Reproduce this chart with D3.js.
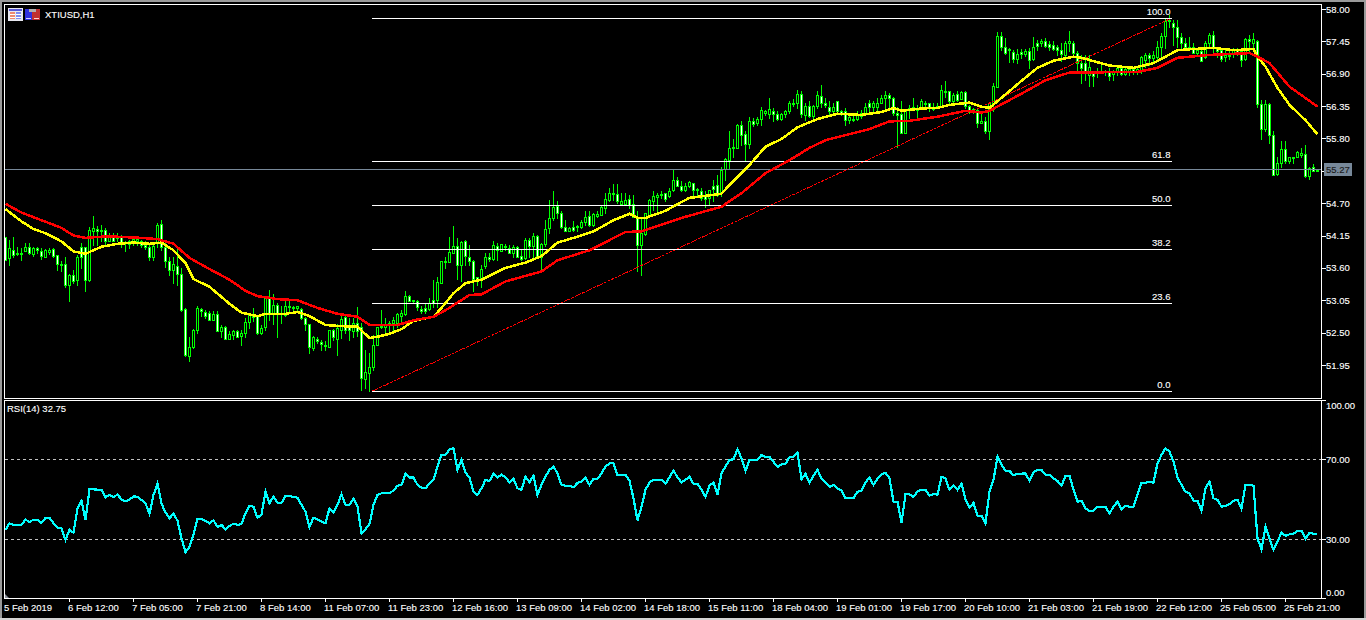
<!DOCTYPE html>
<html><head><meta charset="utf-8">
<script src="https://cdn.jsdelivr.net/npm/d3@7/dist/d3.min.js"></script>
<style>
html,body{margin:0;padding:0;background:#000;overflow:hidden}
svg{display:block}
text{font-family:"Liberation Sans",Arial,sans-serif;font-size:9.5px;fill:#fff;stroke:#fff;stroke-width:.12px}
.crisp{shape-rendering:crispEdges}
</style></head><body><svg id="c" width="1366" height="620"></svg>
<script>
const symbolTitle="XTIUSD,H1";
const rsiTitle="RSI(14) 32.75";
const lastPrice=55.27;
const highs=[54.13,54.08,54.13,53.96,53.93,54.02,54.02,53.96,53.96,53.93,
53.92,53.93,53.93,53.82,53.71,53.79,53.50,53.56,53.82,54.02,
53.96,54.29,54.48,54.31,54.33,54.27,54.19,54.19,54.19,54.16,
54.05,54.08,54.13,54.12,54.08,54.05,53.99,54.03,54.36,54.42,
54.08,53.79,53.79,53.93,53.60,52.92,52.42,52.56,52.96,52.92,
52.89,52.86,52.86,52.87,52.63,52.62,52.53,52.55,52.54,52.55,
52.75,52.83,52.92,52.80,52.63,53.10,53.23,53.15,53.00,52.96,
53.03,53.03,52.96,52.96,52.92,52.76,52.65,52.45,52.43,52.37,
52.35,52.55,52.56,52.65,52.83,52.80,52.75,52.75,52.93,52.66,
52.21,52.15,52.46,52.60,52.89,52.75,52.69,52.76,52.83,52.89,
53.20,53.14,53.06,53.06,52.95,53.00,53.09,53.40,53.45,53.72,
53.78,54.13,54.31,54.10,54.05,54.08,53.99,53.74,53.45,53.65,
53.85,53.86,54.05,54.03,54.01,54.01,53.99,53.99,53.97,53.91,
54.10,54.10,54.19,54.16,54.02,54.41,54.75,54.90,54.74,54.56,
54.41,54.30,54.39,54.33,54.41,54.56,54.56,54.53,54.56,54.67,
54.88,54.95,55.02,55.03,54.88,54.87,54.84,54.84,54.56,54.44,
54.54,54.77,54.90,54.87,54.90,54.88,54.95,55.26,55.15,55.07,
55.04,55.07,55.05,54.95,54.95,54.90,54.93,55.10,55.18,55.32,
55.46,55.92,55.79,56.05,56.09,55.93,56.17,56.14,56.17,56.33,
56.29,56.48,56.31,56.27,56.24,56.29,56.43,56.47,56.62,56.60,
56.40,56.43,56.37,56.60,56.71,56.48,56.43,56.40,56.44,56.29,
56.31,56.20,56.20,56.26,56.29,56.40,56.45,56.44,56.48,56.54,
56.61,56.57,56.51,56.34,56.43,56.29,56.37,56.48,56.37,56.47,
56.44,56.41,56.40,56.40,56.71,56.78,56.61,56.58,56.60,56.61,
56.60,56.37,56.31,56.31,56.23,56.17,56.40,56.74,57.61,57.61,
57.51,57.34,57.30,57.32,57.32,57.32,57.34,57.52,57.47,57.49,
57.50,57.45,57.45,57.39,57.42,57.45,57.62,57.45,57.28,57.22,
57.22,57.22,56.94,56.99,57.05,56.96,56.99,56.96,57.02,57.05,
56.99,57.02,56.99,56.99,57.20,57.26,57.25,57.28,57.45,57.59,
57.84,57.90,57.82,57.81,57.59,57.50,57.52,57.42,57.33,57.30,
57.45,57.59,57.62,57.36,57.33,57.33,57.28,57.33,57.33,57.30,
57.50,57.56,57.59,57.47,56.46,56.46,56.40,55.92,55.49,55.75,
55.76,55.49,55.49,55.59,55.63,55.69,55.32,55.37,55.28];
const lows=[53.74,53.65,53.78,53.82,53.74,53.88,53.84,53.81,53.86,53.75,
53.78,53.84,53.78,53.56,53.54,53.27,53.04,53.34,53.31,53.60,
53.20,53.37,53.99,53.99,54.05,53.99,54.05,54.05,54.05,53.95,
53.88,53.93,53.99,53.99,53.96,53.92,53.74,53.74,53.96,53.91,
53.62,53.48,53.34,53.31,52.86,52.11,52.01,52.24,52.50,52.79,
52.75,52.71,52.71,52.52,52.43,52.39,52.39,52.39,52.42,52.29,
52.42,52.58,52.69,52.48,52.48,52.54,52.72,52.65,52.42,52.67,
52.79,52.86,52.86,52.89,52.73,52.54,52.16,52.21,52.32,52.21,
52.20,52.26,52.38,52.12,52.41,52.49,52.38,52.43,52.45,51.53,
51.56,51.50,51.87,52.29,52.58,52.46,52.49,52.55,52.60,52.69,
52.80,53.03,53.00,52.89,52.83,52.83,52.89,52.94,52.94,53.34,
53.59,53.71,53.85,53.42,53.37,53.65,53.65,53.21,53.31,53.28,
53.59,53.72,53.74,53.74,53.89,53.91,53.85,53.79,53.78,53.74,
53.75,53.79,53.79,53.78,53.58,53.97,54.19,54.41,54.44,54.27,
54.22,54.22,54.22,54.22,54.27,54.33,54.31,54.31,54.47,54.50,
54.53,54.73,54.75,54.70,54.67,54.67,54.61,54.47,53.54,53.48,
54.16,54.50,54.59,54.53,54.78,54.73,54.81,54.90,54.99,54.90,
54.90,54.98,54.82,54.84,54.76,54.63,54.67,54.73,54.82,54.82,
55.10,55.29,55.48,55.63,55.69,55.42,55.63,56.01,56.03,56.03,
56.20,56.14,56.09,56.11,56.11,56.17,56.23,56.35,56.31,56.17,
56.11,56.17,56.13,56.31,56.34,56.33,56.20,56.23,56.23,56.20,
56.03,56.07,56.09,56.11,56.14,56.20,56.26,56.27,56.26,56.40,
56.30,56.30,56.20,55.66,55.89,55.90,56.14,56.29,56.14,56.31,
56.35,56.26,56.29,56.31,56.34,56.51,56.40,56.41,56.43,56.47,
56.31,56.23,56.23,56.00,56.06,55.89,55.79,56.26,56.68,57.30,
57.24,57.10,57.10,57.08,57.17,57.20,57.00,57.13,57.30,57.37,
57.35,57.30,57.30,57.22,57.11,57.19,57.28,57.19,56.96,56.74,
56.80,56.69,56.69,56.84,56.91,56.88,56.80,56.80,56.88,56.88,
56.88,56.88,56.90,56.90,56.92,57.02,57.05,57.08,57.11,57.19,
57.33,57.70,57.39,57.36,57.33,57.30,57.30,57.25,57.22,57.11,
57.16,57.36,57.22,57.19,57.11,57.11,57.15,57.19,57.22,57.03,
57.13,57.25,57.30,56.34,55.79,55.92,55.72,55.18,55.18,55.32,
55.38,55.38,55.38,55.48,55.49,55.15,55.11,55.24,55.24];
const bodyTops=[54.12,53.93,53.91,53.85,53.85,53.95,53.95,53.93,53.93,53.89,
53.91,53.91,53.92,53.82,53.67,53.66,53.48,53.48,53.78,53.95,
53.95,54.25,54.27,54.26,54.25,54.25,54.14,54.12,54.13,54.13,
54.04,54.05,54.09,54.09,54.05,53.99,53.95,53.97,54.33,54.35,
53.95,53.71,53.67,53.63,53.50,52.90,52.25,52.55,52.92,52.90,
52.85,52.83,52.81,52.81,52.60,52.60,52.48,52.53,52.53,52.49,
52.68,52.83,52.80,52.79,52.58,53.09,53.10,52.97,52.97,52.83,
52.96,52.95,52.94,52.95,52.90,52.75,52.64,52.42,52.40,52.34,
52.29,52.54,52.54,52.58,52.74,52.76,52.63,52.67,52.66,52.60,
51.83,51.92,52.29,52.59,52.62,52.65,52.66,52.72,52.81,52.84,
53.12,53.12,53.05,53.03,52.91,52.92,53.00,53.05,53.36,53.71,
53.71,53.87,53.97,53.97,54.04,54.06,53.79,53.72,53.44,53.58,
53.78,53.78,53.99,53.98,54.00,53.98,53.93,53.95,53.95,53.81,
54.08,54.08,54.15,54.15,54.00,54.26,54.44,54.64,54.66,54.54,
54.30,54.28,54.29,54.32,54.38,54.46,54.48,54.51,54.51,54.63,
54.77,54.88,54.87,54.86,54.74,54.75,54.77,54.69,54.44,54.19,
54.53,54.75,54.82,54.84,54.86,54.87,54.91,55.09,55.09,55.00,
54.99,55.06,55.04,54.94,54.90,54.84,54.93,55.00,55.01,55.27,
55.45,55.63,55.65,56.03,56.03,55.87,56.09,56.10,56.13,56.29,
56.27,56.30,56.27,56.21,56.22,56.26,56.41,56.41,56.56,56.56,
56.36,56.36,56.35,56.54,56.52,56.41,56.34,56.34,56.43,56.26,
56.26,56.17,56.13,56.20,56.23,56.34,56.41,56.41,56.41,56.48,
56.53,56.53,56.48,56.23,56.22,56.29,56.31,56.34,56.31,56.43,
56.41,56.40,56.32,56.35,56.62,56.61,56.60,56.54,56.55,56.59,
56.59,56.35,56.30,56.29,56.09,56.09,56.40,56.69,57.54,57.54,
57.35,57.32,57.27,57.24,57.27,57.29,57.29,57.35,57.42,57.46,
57.46,57.40,57.39,57.36,57.30,57.43,57.46,57.43,57.26,57.08,
57.09,57.02,56.92,56.94,56.95,56.95,56.94,56.94,56.99,57.00,
56.98,56.98,56.98,56.98,57.19,57.22,57.22,57.22,57.36,57.54,
57.80,57.81,57.76,57.69,57.53,57.43,57.35,57.35,57.30,57.29,
57.43,57.56,57.56,57.35,57.30,57.22,57.22,57.30,57.30,57.29,
57.49,57.49,57.49,57.45,56.39,56.39,56.39,55.86,55.38,55.62,
55.62,55.48,55.48,55.57,55.56,55.54,55.29,55.31,55.27];
const bodyBottoms=[53.74,53.76,53.82,53.83,53.83,53.89,53.86,53.84,53.90,53.80,
53.79,53.87,53.81,53.66,53.66,53.31,53.31,53.37,53.39,53.78,
53.40,53.40,54.22,54.22,54.22,54.06,54.06,54.06,54.12,54.02,
54.02,54.01,54.03,54.05,53.99,53.95,53.78,53.78,54.02,53.95,
53.71,53.56,53.56,53.49,52.89,52.12,52.11,52.25,52.54,52.86,
52.79,52.71,52.71,52.52,52.52,52.40,52.40,52.46,52.43,52.44,
52.49,52.68,52.77,52.49,52.49,52.59,52.83,52.82,52.82,52.81,
52.80,52.93,52.93,52.92,52.75,52.65,52.25,52.24,52.35,52.30,
52.28,52.26,52.42,52.40,52.55,52.55,52.54,52.52,52.52,51.73,
51.71,51.82,51.91,52.29,52.59,52.60,52.63,52.67,52.67,52.79,
52.81,53.04,53.03,52.93,52.86,52.86,52.91,53.01,53.06,53.35,
53.70,53.70,53.85,53.65,53.65,53.81,53.72,53.42,53.37,53.40,
53.63,53.75,53.75,53.91,53.89,53.95,53.85,53.85,53.79,53.75,
53.76,53.97,53.97,53.78,53.78,54.00,54.27,54.44,54.54,54.29,
54.23,54.23,54.25,54.31,54.30,54.38,54.33,54.33,54.49,54.50,
54.61,54.75,54.86,54.73,54.69,54.69,54.67,54.46,53.99,53.99,
54.18,54.50,54.73,54.81,54.84,54.77,54.82,54.92,55.00,54.92,
54.92,54.99,54.93,54.93,54.78,54.77,54.78,54.94,54.84,54.87,
55.28,55.44,55.63,55.64,55.86,55.71,55.71,56.05,56.07,56.13,
56.23,56.22,56.21,56.13,56.13,56.21,56.26,56.40,56.41,56.21,
56.20,56.19,56.19,56.35,56.40,56.37,56.26,56.26,56.26,56.24,
56.11,56.11,56.11,56.13,56.19,56.23,56.34,56.34,56.34,56.41,
56.48,56.48,56.23,56.20,55.89,55.90,56.29,56.30,56.29,56.34,
56.38,56.31,56.31,56.33,56.35,56.59,56.44,56.44,56.45,56.47,
56.35,56.26,56.26,56.07,56.07,55.92,55.92,56.40,56.68,57.35,
57.25,57.30,57.15,57.15,57.24,57.24,57.13,57.15,57.37,57.42,
57.37,57.35,57.32,57.30,57.23,57.22,57.43,57.26,57.08,56.99,
56.95,56.88,56.86,56.92,56.93,56.93,56.86,56.90,56.93,56.90,
56.90,56.94,56.95,56.95,56.96,57.13,57.17,57.16,57.18,57.36,
57.54,57.79,57.69,57.53,57.43,57.35,57.33,57.26,57.25,57.12,
57.19,57.43,57.33,57.28,57.15,57.19,57.20,57.25,57.26,57.13,
57.15,57.46,57.43,56.39,55.96,55.96,55.86,55.18,55.19,55.38,
55.42,55.41,55.46,55.49,55.52,55.17,55.17,55.25,55.24];
// W = bearish (white body), B = bullish (black body)
const directions="WBWWWBWBWW BBWWWWBWBW WBBWWWBWWW WBBBWWWBBW WWBWWWBBBW WWBWBWBBWB BBWWBBWBWW BBBBWWWBWW WBWBBWWBWW BBBBBBBBBB BWWWWWBWBB BBBWBWWWWB BWBWBWWBWW BWBWBBBBWW WBWBBBWBBB BBBWBBWWWB BBBBBWBBWW BBWWWWBWWB BBWBWWBWBB BBWWBBBBBW BWBBWWWBWW WBBBBBWBBB BWWWWBBBBB WWBWBBWBWB WWBWBWBBBW WBWBWBWBWB WWWWWBBWWW WBWBBBWBBW BBWBBBWBBB BBWWWWBWBW BBWWWBBBWW BWBWWBWWBB WBWBBWBWB".replace(/ /g,"");

const yellowBars=[0,4,7,10,14,17,20,24,28,32,36,39,42,45,47,51,56,59,63,65,70,73,76,80,84,88,91,93,96,99,102,107,109,112,115,119,125,130,134,138,142,147,152,156,158,160,165,169,171,179,181,184,186,190,194,198,203,208,214,219,222,224,229,233,236,241,244,246,249,254,258,262,267,269,276,282,287,290,293,297,302,307,312,313,315,318,321,325,328];
const yellowValues=[54.60,54.39,54.26,54.19,54.05,53.88,53.84,53.96,54.01,54.03,54.01,54.03,53.90,53.68,53.41,53.28,52.99,52.84,52.78,52.82,52.82,52.85,52.78,52.63,52.61,52.60,52.41,52.43,52.48,52.56,52.70,52.77,52.92,53.17,53.34,53.40,53.60,53.69,53.80,54.03,54.11,54.22,54.41,54.52,54.45,54.45,54.57,54.72,54.79,54.86,55.01,55.21,55.35,55.66,55.79,55.99,56.13,56.22,56.20,56.25,56.32,56.27,56.31,56.32,56.37,56.41,56.34,56.32,56.49,56.78,57.00,57.12,57.19,57.17,57.04,57.00,57.08,57.19,57.30,57.32,57.34,57.30,57.32,57.19,57.02,56.66,56.37,56.11,55.87];
const redBars=[0,4,9,14,17,20,24,28,34,38,42,46,51,56,60,63,68,73,78,83,88,91,98,102,107,110,116,119,125,134,138,146,155,159,169,179,184,190,196,201,205,212,216,221,226,233,240,244,246,254,260,266,283,288,293,301,311,313,316,321,328];
const redValues=[54.69,54.54,54.41,54.28,54.15,54.11,54.13,54.13,54.11,54.09,54.01,53.77,53.58,53.40,53.21,53.12,53.07,53.05,52.92,52.82,52.77,52.63,52.63,52.71,52.77,52.88,53.14,53.15,53.37,53.54,53.73,53.90,54.21,54.22,54.45,54.64,54.87,55.21,55.43,55.64,55.77,55.89,55.96,56.09,56.10,56.17,56.27,56.24,56.27,56.56,56.79,56.92,56.93,57.00,57.17,57.22,57.25,57.19,57.08,56.68,56.34];

const rsiValues=[34.7,38.0,37.2,37.2,37.2,39.8,38.7,39.8,39.8,38.2,40.7,40.8,38.0,35.8,35.5,29.7,34.8,33.3,45.5,49.2,
39.7,55.0,55.0,54.8,54.8,51.0,52.2,51.2,52.3,50.0,49.0,49.8,51.5,51.2,49.7,48.0,42.7,52.2,57.8,47.8,
43.5,40.5,43.0,39.2,30.5,23.6,26.3,32.2,40.2,40.2,39.2,38.0,39.5,36.2,37.2,35.0,36.7,37.8,37.2,37.7,
43.0,46.8,46.3,40.7,42.5,53.8,48.0,51.3,48.3,48.2,51.8,51.7,51.2,50.8,47.2,43.8,36.2,40.8,40.0,38.8,
38.0,45.5,43.5,47.2,52.5,47.2,47.2,50.3,46.3,33.0,35.0,37.7,47.2,52.2,53.0,53.2,53.2,54.3,56.8,57.2,
62.7,60.8,61.0,57.2,55.8,55.5,58.0,59.7,66.3,72.2,72.2,75.0,75.5,64.7,69.7,
63.5,60.8,53.8,52.2,55.5,59.7,59.2,62.8,61.0,62.3,61.0,58.5,60.2,55.5,54.7,61.3,58.5,61.8,52.2,57.2,61.3,64.7,66.3,63.0,57.2,56.8,56.8,56.0,58.2,58.8,60.8,57.2,60.2,60.2,63.0,66.3,68.0,68.0,62.0,62.0,62.2,59.2,50.5,39.5,46.3,54.7,58.5,59.7,59.7,59.7,57.7,61.0,64.3,61.0,58.5,59.7,61.3,57.7,57.7,54.7,51.2,56.8,58.5,52.2,63.0,66.3,69.7,70.0,75.0,70.5,64.2,69.7,69.7,69.7,72.2,71.2,71.2,68.8,66.2,67.5,67.8,71.0,71.3,73.3,60.0,62.7,58.3,61.7,64.7,60.5,58.5,56.2,57.2,55.5,54.3,50.5,50.5,50.5,53.8,54.2,58.5,60.8,57.2,60.2,62.5,63.3,60.5,48.8,48.8,38.2,52.5,52.5,
51.2,53.8,54.8,54.7,51.8,52.7,52.3,61.3,60.5,54.7,56.8,54.7,57.7,49.7,45.8,48.2,41.8,41.8,38.0,53.8,59.7,71.2,67.2,64.2,64.2,62.0,62.7,62.8,63.0,59.2,63.5,64.7,64.7,62.2,62.2,60.5,59.2,56.8,61.8,61.8,54.7,48.8,49.3,45.5,44.2,44.2,46.2,46.2,46.2,43.0,46.3,48.8,44.7,46.8,46.3,46.3,52.2,58.3,58.3,58.8,58.3,68.0,72.2,75.5,73.8,68.8,61.0,57.2,53.8,53.0,49.3,49.3,44.2,55.5,58.8,50.5,49.7,46.3,46.7,47.5,49.3,49.8,45.2,57.2,57.2,56.8,30.5,25.0,36.3,30.5,24.7,28.8,33.5,31.7,32.5,32.8,34.2,34.2,30.2,33.3,32.8,32.75];

const priceTicks=[58.00,57.45,56.90,56.35,55.80,55.25,54.70,54.15,53.60,53.05,52.50,51.95];
const rsiTicks=[100,70,30,0];
const rsiGuides=[70,30];
const timeLabels=["5 Feb 2019","6 Feb 12:00","7 Feb 05:00","7 Feb 21:00","8 Feb 14:00","11 Feb 07:00","11 Feb 23:00","12 Feb 16:00","13 Feb 09:00","14 Feb 02:00","14 Feb 18:00","15 Feb 11:00","18 Feb 04:00","19 Feb 01:00","19 Feb 17:00","20 Feb 10:00","21 Feb 03:00","21 Feb 19:00","22 Feb 12:00","25 Feb 05:00","25 Feb 21:00"];
const timeLabelBars=timeLabels.map((_,k)=>k*16);
const fibLevels=[0,23.6,38.2,50,61.8,100];
const fibLow=51.503, fibHigh=57.845, fibStartBar=91.6, fibEndBar=291.5;

const barCount=highs.length;
const x=d3.scaleLinear().domain([0,328]).range([5.5,1317.5]);
const y=d3.scaleLinear().domain([58,51.95]).range([9,365]);
const yR=d3.scaleLinear().domain([100,0]).range([399.3,599.3]);
const px=v=>Math.round(v)+.5;
const svg=d3.select("#c");
const GREEN="#00ff00", WHITE="#ffffff";

// window edges
const chrome=svg.append("g").attr("class","crisp").attr("fill","#9a9a9a");
chrome.append("rect").attr("x",0).attr("y",0).attr("width",1366).attr("height",2);
chrome.append("rect").attr("x",0).attr("y",0).attr("width",2).attr("height",620);
chrome.append("rect").attr("x",1364).attr("y",0).attr("width",2).attr("height",620);
chrome.append("rect").attr("x",0).attr("y",618).attr("width",1366).attr("height",2).attr("fill","#d4d4d4");

// candles: all edges sit on pixel centres, so no crispEdges is needed
const barsIdx=d3.range(barCount);
const candles=svg.append("g");
candles.selectAll("line").data(barsIdx).join("line")
 .attr("x1",i=>x(i)).attr("x2",i=>x(i))
 .attr("y1",i=>px(y(highs[i]))-.5).attr("y2",i=>px(y(lows[i]))+.5)
 .attr("stroke",GREEN);
candles.selectAll("rect").data(barsIdx).join("rect")
 .attr("x",i=>x(i)-1).attr("width",2)
 .attr("y",i=>px(y(bodyTops[i])))
 .attr("height",i=>Math.max(1,px(y(bodyBottoms[i]))-px(y(bodyTops[i]))))
 .attr("fill",i=>directions[i]==="W"?WHITE:"#000")
 .attr("stroke",GREEN);

// current price line
svg.append("line").attr("class","crisp")
 .attr("x1",x(0)-1).attr("x2",1321).attr("y1",Math.floor(y(lastPrice))+.5).attr("y2",Math.floor(y(lastPrice))+.5)
 .attr("stroke","#778899");

// Fibonacci
const fibY=l=>y(fibLow+(fibHigh-fibLow)*l/100);
const fib=svg.append("g");
fib.append("line").attr("x1",x(fibStartBar)).attr("y1",fibY(0)).attr("x2",x(fibEndBar)).attr("y2",fibY(100))
 .attr("stroke","#ff0000").attr("stroke-width",1).attr("stroke-dasharray","3 1").attr("class","crisp");
fib.selectAll("line.lv").data(fibLevels).join("line").attr("class","lv crisp")
 .attr("x1",x(fibStartBar)).attr("x2",x(fibEndBar))
 .attr("y1",l=>px(fibY(l))).attr("y2",l=>px(fibY(l))).attr("stroke",WHITE);
fib.selectAll("text").data(fibLevels).join("text")
 .attr("x",x(fibEndBar)-1).attr("y",l=>px(fibY(l))-3.5).attr("text-anchor","end")
 .text(l=>l.toFixed(1));

// moving averages
const lineGen=(bars)=>d3.line().x((v,k)=>x(bars[k])).y(v=>y(v));
svg.append("path").attr("class","crisp").attr("d",lineGen(yellowBars)(yellowValues)).attr("fill","none").attr("stroke","#ffff00").attr("stroke-width",2.5);
svg.append("path").attr("class","crisp").attr("d",lineGen(redBars)(redValues)).attr("fill","none").attr("stroke","#ff0000").attr("stroke-width",2.5);

// RSI panel
const rsiG=svg.append("g");
rsiG.selectAll("line").data(rsiGuides).join("line").attr("class","crisp")
 .attr("x1",5).attr("x2",1321).attr("y1",v=>px(yR(v))).attr("y2",v=>px(yR(v)))
 .attr("stroke","#c0c0c0").attr("stroke-dasharray","3 3");
rsiG.append("path").attr("class","crisp")
 .attr("d",d3.line().x((v,i)=>x(i)).y(v=>yR(v))(rsiValues))
 .attr("fill","none").attr("stroke","#00ffff").attr("stroke-width",2.2);
rsiG.append("path").attr("d","M5 594L9 598L5 598Z").attr("fill","#8a8f99");

// frames
const frame=svg.append("g").attr("class","crisp").attr("fill","none").attr("stroke",WHITE);
frame.append("rect").attr("x",4.5).attr("y",4.5).attr("width",1317).attr("height",394);
frame.append("rect").attr("x",4.5).attr("y",400.5).attr("width",1317).attr("height",198);

// axes
const priceAxis=d3.axisRight(y).tickValues(priceTicks).tickFormat(d3.format(".2f")).tickSize(4).tickPadding(0);
const gP=svg.append("g").attr("transform","translate(1322,0)").call(priceAxis);
gP.select(".domain").remove();
gP.selectAll("line").attr("stroke",WHITE).attr("class","crisp");
gP.selectAll("text").attr("fill",WHITE).attr("font-size",null).attr("font-family",null);

const rsiAxis=d3.axisRight(yR).tickValues(rsiTicks).tickFormat(d3.format(".2f")).tickSize(4).tickPadding(0);
const gR=svg.append("g").attr("transform","translate(1322,0)").call(rsiAxis);
gR.select(".domain").remove();
gR.selectAll("line").attr("stroke",WHITE).attr("class","crisp");
gR.selectAll("text").attr("font-size",null).attr("font-family",null);
gR.selectAll(".tick").filter(d=>d===100).attr("transform","translate(0,400.5)").select("text").attr("dy","0.32em").attr("y",5);
gR.selectAll(".tick").filter(d=>d===0).attr("transform","translate(0,598.5)").select("text").attr("dy","0.32em").attr("y",-6);

const timeAxis=d3.axisBottom(x).tickValues(timeLabelBars).tickFormat((d,k)=>timeLabels[k]).tickSize(3).tickPadding(2);
const gT=svg.append("g").attr("transform","translate(-1,599)").call(timeAxis);
gT.select(".domain").remove();
gT.selectAll("line").attr("stroke",WHITE).attr("class","crisp");
gT.selectAll("text").attr("font-size",null).attr("font-family",null).attr("text-anchor","start").attr("dx",-1);
gT.selectAll(".tick").filter(d=>d===0).select("line").remove();

// last price tag
const tag=svg.append("g");
tag.append("rect").attr("class","crisp").attr("x",1324).attr("y",Math.floor(y(lastPrice))-6).attr("width",28).attr("height",13).attr("fill","#778899");
tag.append("text").attr("x",1326).attr("y",y(lastPrice)+3).style("fill","#1a1a1a").style("stroke","#1a1a1a").text(lastPrice.toFixed(2));

// titles
svg.append("text").attr("x",45).attr("y",18).text(symbolTitle);
svg.append("text").attr("x",7).attr("y",412).text(rsiTitle);

// header icons
const ic=svg.append("g").attr("class","crisp");
const r=(a,b,w,h,c)=>ic.append("rect").attr("x",a).attr("y",b).attr("width",w).attr("height",h).attr("fill",c);
r(8,8,15,13,"#e8e8f0"); r(9,9,13,2,"#5a5ad8");
r(10,12,5,7,"#ee8a70"); r(16,12,5,7,"#7f8cf0");
r(10,14,5,1,"#fff"); r(16,14,5,1,"#fff"); r(10,17,5,1,"#fff"); r(16,17,5,1,"#fff");
r(25,9,7,11,"#3030e0"); r(32,9,8,11,"#c03030"); r(29,9,7,3,"#b0b0b0"); r(26,18,5,1,"#d0d0ff"); r(34,18,5,1,"#ffd0d0");
</script></body></html>
